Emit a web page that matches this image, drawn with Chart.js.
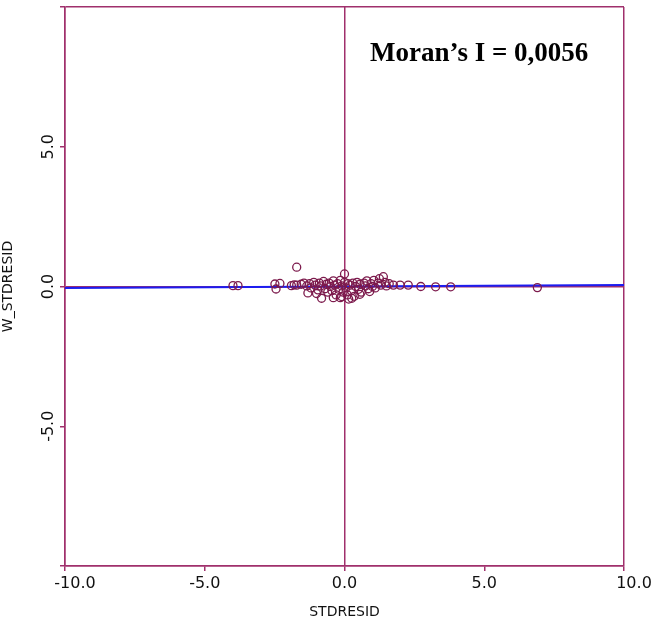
<!DOCTYPE html>
<html>
<head>
<meta charset="utf-8">
<script src="https://cdn.jsdelivr.net/npm/chart.js@4.4.1/dist/chart.umd.min.js"></script>
<style>
  html, body { margin: 0; padding: 0; background: #ffffff; }
  #wrap { width: 652px; height: 621px; }
</style>
</head>
<body>
<div id="wrap"><canvas id="c" width="652" height="621"></canvas></div>
<script>
// Standardized residuals (STDRESID) and their spatial lag (W_STDRESID)
const stdresid = [
  -3.99, -3.81, -2.49, -2.31, -2.45, -1.71, -1.71, -1.90, -1.80,
  -1.55, -1.45, -1.35, -1.31, -1.25, -1.20, -1.10, -1.05, -1.00, -0.95, -0.90,
  -0.85, -0.82, -0.75, -0.70, -0.65, -0.60, -0.55, -0.50, -0.45, -0.40, -0.40,
  -0.35, -0.30, -0.25, -0.20, -0.15, -0.15, -0.10, -0.10, -0.05, 0.00, 0.00,
  0.05, 0.10, 0.12, 0.15, 0.20, 0.25, 0.26, 0.30, 0.35, 0.40, 0.45, 0.50,
  0.55, 0.55, 0.60, 0.70, 0.75, 0.80, 0.85, 0.90, 0.95, 1.00, 1.05, 1.10,
  1.20, 1.25, 1.30, 1.39, 1.45, 1.50, 1.60, 1.75, 1.99, 2.28, 2.73, 3.26,
  3.80, 6.90
];
const wStdresid = [
  0.03, 0.03, 0.09, 0.11, -0.09, 0.69, 0.05, 0.03, 0.06,
  0.08, 0.12, 0.02, -0.23, 0.10, -0.05, 0.15, 0.05, -0.25, -0.12, 0.12,
  0.02, -0.42, 0.18, -0.08, 0.08, -0.20, 0.12, 0.00, -0.15, 0.20, -0.40,
  0.05, -0.30, 0.10, -0.10, 0.22, -0.40, 0.02, -0.36, -0.20, 0.15, 0.45,
  -0.05, -0.30, 0.10, -0.45, 0.05, -0.15, -0.42, 0.12, -0.35, 0.00, 0.15, -0.10,
  0.08, -0.28, -0.20, 0.12, 0.02, 0.20, -0.08, -0.18, 0.10, 0.00, 0.22, -0.05,
  0.12, 0.28, 0.05, 0.35, 0.15, 0.02, 0.10, 0.05, 0.05, 0.05, 0.00, -0.01,
  -0.01, -0.04
];
// Moran's I is the slope of the fitted line
const moransI = 0.0056;
const axisRange = [-10, 10];
const xTickValues = [-10, -5, 0, 5, 10];
const yTickValues = [-10, -5, 0, 5, 10];
const yLabelledTicks = [-5, 0, 5];

const frameColor = '#a0306c';
const pointColor = '#7c1a4c';
const fitColor = '#1c1cf0';
const tickFont = { family: '"DejaVu Sans", sans-serif', size: 16 };

const points = stdresid.map((x, i) => ({ x: x, y: wStdresid[i] }));
const fitLine = axisRange.map(x => ({ x: x, y: moransI * x }));

const fmt = v => v.toFixed(1);
const isEnd = v => v === axisRange[0] || v === axisRange[1];

// Only the frame and the zero cross are visible as grid lines
function gridColor(ctx) {
  const v = ctx.tick ? ctx.tick.value : null;
  return (v === 0 || isEnd(v)) ? frameColor : 'rgba(0,0,0,0)';
}

// Statistic label, plus the end labels of the x axis, which sit a little
// to the right of their tick marks
const extrasPlugin = {
  id: 'extras',
  afterDraw(chart) {
    const c = chart.ctx;
    const xs = chart.scales.x;
    const items = xs.getLabelItems();
    const ref = items.find(it => it.label !== '');
    c.save();
    c.fillStyle = '#111111';
    c.font = `${tickFont.size}px ${tickFont.family}`;
    c.textAlign = 'center';
    let y = xs.top + 17;
    c.textBaseline = 'middle';
    if (ref) {
      c.textBaseline = ref.options.textBaseline;
      y = ref.options.translation[1] + (ref.textOffset || 0);
    }
    axisRange.forEach(v => {
      c.fillText(fmt(v), xs.getPixelForValue(v) + 10, y);
    });

    c.fillStyle = '#000000';
    c.font = 'bold 27px "Liberation Serif", "Times New Roman", serif';
    c.textAlign = 'left';
    c.textBaseline = 'alphabetic';
    c.fillText('Moran\u2019s I = 0,0056', 370, 61);
    c.restore();
  }
};

new Chart(document.getElementById('c'), {
  type: 'scatter',
  data: {
    datasets: [
      {
        type: 'scatter',
        data: points,
        pointStyle: 'circle',
        pointRadius: 4,
        pointHoverRadius: 4,
        backgroundColor: 'rgba(0,0,0,0)',
        borderColor: pointColor,
        borderWidth: 1.3,
        order: 1
      },
      {
        type: 'line',
        data: fitLine,
        borderColor: fitColor,
        borderWidth: 2,
        pointRadius: 0,
        fill: false,
        order: 2
      }
    ]
  },
  options: {
    responsive: false,
    animation: false,
    events: [],
    layout: { padding: { top: 7, right: 28, left: 0, bottom: 0 } },
    plugins: { legend: { display: false }, tooltip: { enabled: false } },
    scales: {
      x: {
        type: 'linear',
        min: axisRange[0],
        max: axisRange[1],
        afterBuildTicks(scale) { scale.ticks = xTickValues.map(v => ({ value: v })); },
        afterFit(scale) {
          scale.height = 55;
          scale.paddingLeft = 0;
          scale.paddingRight = 0;
        },
        border: { display: true, color: frameColor, width: 1.5 },
        grid: { color: gridColor, tickColor: frameColor, tickLength: 5, lineWidth: 1.5 },
        ticks: {
          color: '#111111',
          font: tickFont,
          padding: 3,
          maxRotation: 0,
          autoSkip: false,
          callback: v => isEnd(v) ? '' : fmt(v)
        },
        title: {
          display: true,
          text: 'STDRESID',
          color: '#111111',
          font: { family: '"DejaVu Sans", sans-serif', size: 14 },
          padding: { top: 2, bottom: 0 }
        }
      },
      y: {
        type: 'linear',
        min: axisRange[0],
        max: axisRange[1],
        afterBuildTicks(scale) { scale.ticks = yTickValues.map(v => ({ value: v })); },
        afterFit(scale) {
          scale.width = 65;
          scale.paddingTop = 0;
          scale.paddingBottom = 0;
        },
        border: { display: true, color: frameColor, width: 1.5 },
        grid: { color: gridColor, tickColor: frameColor, tickLength: 5, lineWidth: 1.5 },
        ticks: {
          color: '#111111',
          font: tickFont,
          padding: -4,
          minRotation: 90,
          maxRotation: 90,
          crossAlign: 'center',
          autoSkip: false,
          callback: v => yLabelledTicks.includes(v) ? fmt(v) : ''
        },
        title: {
          display: true,
          text: 'W_STDRESID',
          color: '#111111',
          font: { family: '"DejaVu Sans", sans-serif', size: 14 },
          padding: { top: 0, bottom: 4 }
        }
      }
    }
  },
  plugins: [extrasPlugin]
});
</script>
</body>
</html>
